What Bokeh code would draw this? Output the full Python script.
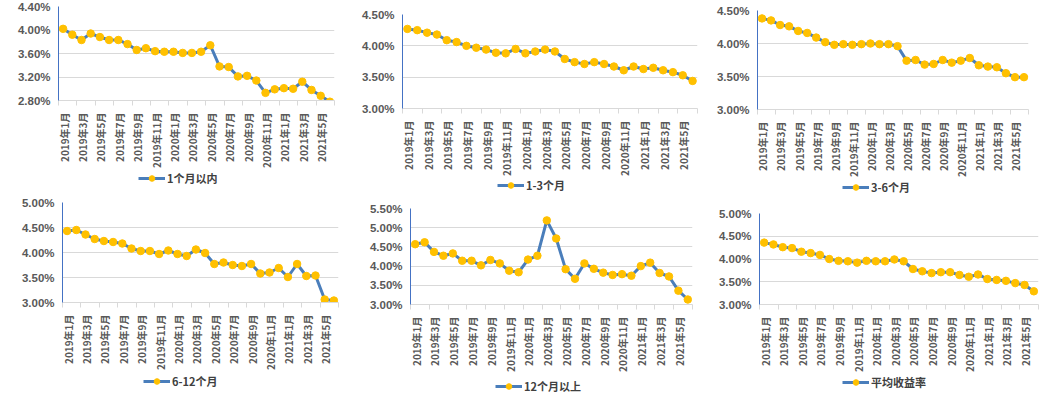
import math
from bokeh.plotting import figure
from bokeh.layouts import row, column
from bokeh.models import Range1d, FixedTicker, PrintfTickFormatter, Legend, LegendItem, ColumnDataSource
from bokeh.embed import file_html
from bokeh.resources import INLINE

# ---------------- data ----------------
months = ["2019年1月", "2019年2月", "2019年3月", "2019年4月", "2019年5月", "2019年6月",
          "2019年7月", "2019年8月", "2019年9月", "2019年10月", "2019年11月", "2019年12月",
          "2020年1月", "2020年2月", "2020年3月", "2020年4月", "2020年5月", "2020年6月",
          "2020年7月", "2020年8月", "2020年9月", "2020年10月", "2020年11月", "2020年12月",
          "2021年1月", "2021年2月", "2021年3月", "2021年4月", "2021年5月", "2021年6月"]

within_1m = [4.02, 3.92, 3.83, 3.94, 3.88, 3.83, 3.83, 3.76, 3.66, 3.69, 3.64, 3.63, 3.63, 3.61, 3.61,
             3.63, 3.74, 3.38, 3.37, 3.21, 3.22, 3.14, 2.93, 2.99, 3.01, 3.00, 3.12, 2.98, 2.88, 2.78]
m1_3 = [4.27, 4.25, 4.21, 4.18, 4.09, 4.06, 4.00, 3.97, 3.94, 3.89, 3.88, 3.95, 3.88, 3.91, 3.94,
        3.91, 3.79, 3.74, 3.71, 3.74, 3.71, 3.67, 3.61, 3.67, 3.63, 3.65, 3.61, 3.58, 3.53, 3.44]
m3_6 = [4.38, 4.35, 4.28, 4.26, 4.19, 4.16, 4.09, 4.02, 3.98, 3.99, 3.98, 3.99, 4.00, 3.99, 3.99,
        3.96, 3.74, 3.75, 3.68, 3.69, 3.75, 3.71, 3.74, 3.78, 3.67, 3.65, 3.64, 3.55, 3.49, 3.49]
m6_12 = [4.43, 4.45, 4.36, 4.27, 4.23, 4.21, 4.18, 4.08, 4.03, 4.03, 3.97, 4.04, 3.97, 3.93, 4.06,
         3.99, 3.77, 3.80, 3.75, 3.73, 3.77, 3.58, 3.60, 3.69, 3.51, 3.77, 3.53, 3.54, 3.06, 3.04]
over_12m = [4.57, 4.62, 4.37, 4.27, 4.33, 4.14, 4.14, 4.02, 4.16, 4.07, 3.88, 3.84, 4.17, 4.27, 5.19,
            4.72, 3.92, 3.67, 4.07, 3.93, 3.83, 3.77, 3.79, 3.75, 4.00, 4.09, 3.82, 3.73, 3.36, 3.13]
average = [4.36, 4.32, 4.26, 4.24, 4.16, 4.13, 4.09, 4.00, 3.96, 3.95, 3.92, 3.96, 3.95, 3.95, 3.99,
           3.95, 3.78, 3.73, 3.69, 3.71, 3.71, 3.65, 3.61, 3.66, 3.56, 3.54, 3.52, 3.47, 3.43, 3.29]

series_names = ["1个月以内", "1-3个月", "3-6个月", "6-12个月", "12个月以上", "平均收益率"]

yticks_1 = [2.8, 3.2, 3.6, 4.0, 4.4]
yticks_2 = [3.0, 3.5, 4.0, 4.5]
yticks_3 = [3.0, 3.5, 4.0, 4.5]
yticks_4 = [3.0, 3.5, 4.0, 4.5, 5.0]
yticks_5 = [3.0, 3.5, 4.0, 4.5, 5.0, 5.5]
yticks_6 = [3.0, 3.5, 4.0, 4.5, 5.0]

# ---------------- styling ----------------
LINE = "#4A7EBB"
MARK = "#FFC000"
GRID = "#D9D9D9"
TXT = "#595959"

n = len(months)
xs = [i + 0.5 for i in range(n)]
label_idx = list(range(0, n, 2))
label_pos = [i + 0.6 for i in label_idx]
overrides = {pos: months[i] for pos, i in zip(label_pos, label_idx)}
minor = list(range(0, n + 1, 2))

BB = 66   # bottom border of each chart (axis area)
LH = 14   # legend row height


def make_panel(name, vals, yticks, w, total, left, right, top, fh, vx, d):
    src = ColumnDataSource(dict(x=xs, y=vals, month=months))
    hc = top + fh + BB
    p = figure(width=w, height=hc, x_range=Range1d(0, n), y_range=Range1d(yticks[0], yticks[-1]),
               output_backend="svg", toolbar_location=None,
               min_border_left=left, min_border_right=right,
               min_border_top=top, min_border_bottom=BB)
    p.outline_line_color = None
    p.xgrid.visible = False
    p.ygrid.ticker = FixedTicker(ticks=yticks)
    p.ygrid.grid_line_color = GRID
    p.ygrid.grid_line_width = 1

    ya = p.yaxis[0]
    ya.ticker = FixedTicker(ticks=yticks)
    ya.formatter = PrintfTickFormatter(format="%.2f%%")
    ya.axis_line_color = "#4472C4"
    ya.axis_line_width = 1
    ya.major_tick_out = 0
    ya.major_tick_in = 0
    ya.minor_tick_out = 0
    ya.minor_tick_in = 0
    ya.major_label_standoff = 8
    ya.major_label_text_font = "Liberation Sans"
    ya.major_label_text_font_style = "bold"
    ya.major_label_text_font_size = "11.5px"
    ya.major_label_text_color = TXT

    xa = p.xaxis[0]
    xa.ticker = FixedTicker(ticks=label_pos, minor_ticks=minor)
    xa.major_label_overrides = overrides
    xa.major_label_orientation = math.pi / 2
    xa.axis_line_color = GRID
    xa.major_tick_out = 0
    xa.major_tick_in = 0
    xa.minor_tick_out = 5
    xa.minor_tick_in = 0
    xa.minor_tick_line_color = GRID
    xa.major_label_standoff = 7
    xa.major_label_text_font = "Noto Sans CJK SC"
    xa.major_label_text_font_style = "bold"
    xa.major_label_text_font_size = "10px"
    xa.major_label_text_color = TXT

    p.line("x", "y", source=src, line_color=LINE, line_width=3)
    p.scatter("x", "y", source=src, size=7.5, fill_color=MARK, line_color=MARK)

    # legend row (separate strip below the chart; its frame aligns with the chart frame)
    hl = total - hc
    lf = figure(width=w, height=hl, x_range=Range1d(-3, -2), y_range=Range1d(-3, -2),
                x_axis_type=None, y_axis_type=None, output_backend="svg",
                toolbar_location=None, min_border=0)
    lf.outline_line_color = None
    lf.xgrid.visible = False
    lf.ygrid.visible = False
    ln = lf.line("x", "y", source=src, line_color=LINE, line_width=3)
    sc = lf.scatter("x", "y", source=src, size=7.5, fill_color=MARK, line_color=MARK)
    vy = max(0, hl - (d - BB) - LH // 2)
    legend = Legend(items=[LegendItem(label=name, renderers=[ln, sc])],
                    location=(vx, vy),
                    orientation="horizontal",
                    padding=0, margin=0, spacing=0,
                    glyph_width=27, glyph_height=LH, label_height=LH,
                    label_standoff=2,
                    border_line_color=None, background_fill_alpha=0,
                    label_text_font="Noto Sans CJK SC",
                    label_text_font_style="bold",
                    label_text_font_size="11px",
                    label_text_color="#404040")
    lf.add_layout(legend, "center")
    return column(p, lf, spacing=0)


c1 = make_panel(series_names[0], within_1m, yticks_1, 350, 196, 58, 16, 6, 98, 80, 75)
c2 = make_panel(series_names[1], m1_3, yticks_2, 353, 196, 52, 6, 14, 98, 95, 74)
c3 = make_panel(series_names[2], m3_6, yticks_3, 338, 196, 54, 13, 10, 103, 85, 75)
c4 = make_panel(series_names[3], m6_12, yticks_4, 350, 202, 62, 12, 6, 104, 81, 76)
c5 = make_panel(series_names[4], over_12m, yticks_5, 353, 202, 60, 11, 12, 100, 85, 79)
c6 = make_panel(series_names[5], average, yticks_6, 338, 202, 56, 3, 17, 95, 83, 75)

layout = column(row(c1, c2, c3, spacing=0), row(c4, c5, c6, spacing=0), spacing=0)

open("out.html", "w").write(file_html(layout, INLINE))
